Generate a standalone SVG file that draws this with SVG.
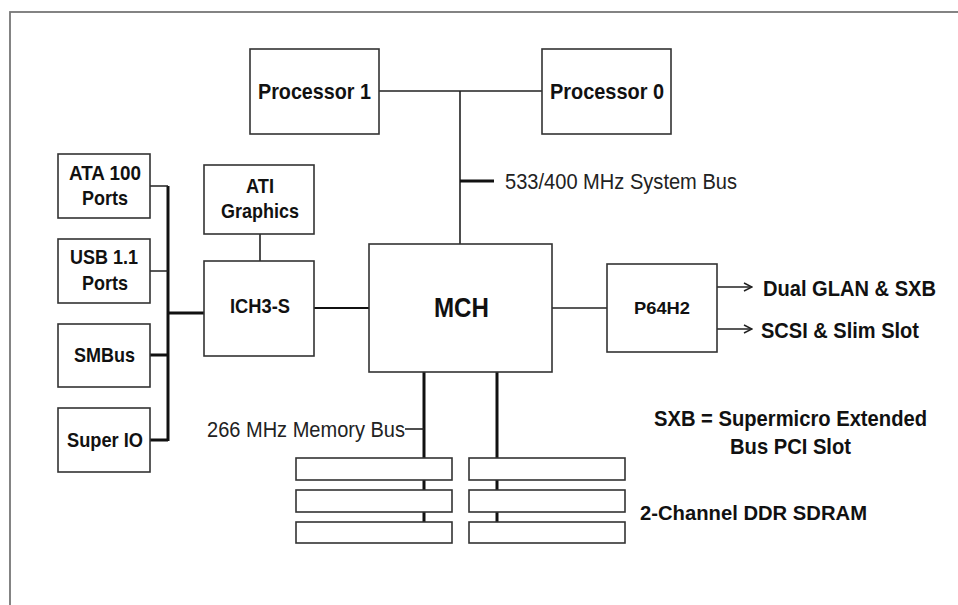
<svg xmlns="http://www.w3.org/2000/svg" width="958" height="605" viewBox="0 0 958 605">
<style>
.box{fill:#fff;stroke:#333;stroke-width:1.6}
.ln{fill:none;stroke:#222;stroke-width:1.6}
.bus{fill:none;stroke:#111;stroke-width:3}
.t{font-family:"Liberation Sans",Arial,sans-serif;font-weight:bold;fill:#111;font-size:21px}
.r{font-family:"Liberation Sans",Arial,sans-serif;font-weight:normal;fill:#222;font-size:22px}
</style>
<defs>
<marker id="arr" markerWidth="10" markerHeight="10" refX="9" refY="5" orient="auto" markerUnits="userSpaceOnUse">
<path d="M1,1 L9,5 L1,9" fill="none" stroke="#222" stroke-width="1.5"/>
</marker>
</defs>
<rect x="0" y="0" width="958" height="605" fill="#fff"/>
<rect x="10" y="12" width="970" height="620" fill="none" stroke="#777" stroke-width="1.8"/>

<g id="connectors">
<path class="ln" d="M379,91 H542 M460,91 V244"/>
<path class="bus" d="M460,181 H494"/>
<path class="ln" d="M260,234 V261"/>
<path class="bus" d="M168,186 V441"/>
<path class="ln" d="M150,186 H168 M150,271 H168"/>
<path class="bus" d="M150,355 H168 M150,440 H168 M168,313 H205"/>
<path class="bus" d="M314,308 H369" style="stroke-width:2.2"/>
<path class="ln" d="M552,308 H607"/>
<path class="ln" d="M717,287 H752" marker-end="url(#arr)"/>
<path class="ln" d="M717,329 H752" marker-end="url(#arr)"/>
<path class="bus" d="M424,372 V522 M497,372 V522"/>
<path class="ln" d="M405,429 H424"/>
</g>

<g id="processor1"><rect class="box" x="250" y="49" width="129" height="85"/><text class="t" x="258" y="99" font-size="22" textLength="113" lengthAdjust="spacingAndGlyphs" style="font-size:22px">Processor 1</text></g>
<g id="processor0"><rect class="box" x="542" y="49" width="129" height="85"/><text class="t" x="550" y="99" textLength="114" lengthAdjust="spacingAndGlyphs" style="font-size:22px">Processor 0</text></g>

<g id="ata"><rect class="box" x="58" y="154" width="92" height="64"/><text class="t" x="69" y="180" textLength="72" lengthAdjust="spacingAndGlyphs">ATA 100</text><text class="t" x="82" y="205" textLength="46" lengthAdjust="spacingAndGlyphs">Ports</text></g>
<g id="usb"><rect class="box" x="58" y="239" width="92" height="64"/><text class="t" x="70" y="264" textLength="68" lengthAdjust="spacingAndGlyphs">USB 1.1</text><text class="t" x="82" y="290" textLength="46" lengthAdjust="spacingAndGlyphs">Ports</text></g>
<g id="smbus"><rect class="box" x="58" y="324" width="92" height="63"/><text class="t" x="74" y="362" textLength="61" lengthAdjust="spacingAndGlyphs">SMBus</text></g>
<g id="superio"><rect class="box" x="58" y="408" width="92" height="64"/><text class="t" x="67" y="447" textLength="76" lengthAdjust="spacingAndGlyphs">Super IO</text></g>

<g id="ati"><rect class="box" x="204" y="165" width="110" height="69"/><text class="t" x="246" y="193" textLength="28" lengthAdjust="spacingAndGlyphs">ATI</text><text class="t" x="221" y="218" textLength="78" lengthAdjust="spacingAndGlyphs">Graphics</text></g>
<g id="ich"><rect class="box" x="204" y="261" width="110" height="95"/><text class="t" x="230" y="313" textLength="60" lengthAdjust="spacingAndGlyphs">ICH3-S</text></g>
<g id="mch"><rect class="box" x="369" y="244" width="183" height="128"/><text class="t" x="434" y="317" textLength="55" lengthAdjust="spacingAndGlyphs" style="font-size:28px">MCH</text></g>
<g id="p64h2"><rect class="box" x="607" y="264" width="110" height="88"/><text class="t" x="634" y="314" textLength="56" lengthAdjust="spacingAndGlyphs" style="font-size:17px">P64H2</text></g>

<g id="labels">
<text class="r" x="505" y="189" textLength="232" lengthAdjust="spacingAndGlyphs">533/400 MHz System Bus</text>
<text class="r" x="207" y="437" textLength="198" lengthAdjust="spacingAndGlyphs">266 MHz Memory Bus</text>
<text class="t" x="763" y="296" textLength="173" lengthAdjust="spacingAndGlyphs" style="font-size:22px">Dual GLAN &amp; SXB</text>
<text class="t" x="761" y="338" textLength="158" lengthAdjust="spacingAndGlyphs" style="font-size:22px">SCSI &amp; Slim Slot</text>
<text class="t" x="654" y="426" textLength="273" lengthAdjust="spacingAndGlyphs" style="font-size:22px">SXB = Supermicro Extended</text>
<text class="t" x="730" y="454" textLength="121" lengthAdjust="spacingAndGlyphs" style="font-size:22px">Bus PCI Slot</text>
<text class="t" x="640" y="520" textLength="227" lengthAdjust="spacingAndGlyphs">2-Channel DDR SDRAM</text>
</g>

<g id="dimms">
<rect class="box" x="296" y="458" width="156" height="22"/>
<rect class="box" x="296" y="490" width="156" height="22"/>
<rect class="box" x="296" y="522" width="156" height="21"/>
<rect class="box" x="469" y="458" width="156" height="22"/>
<rect class="box" x="469" y="490" width="156" height="22"/>
<rect class="box" x="469" y="522" width="156" height="21"/>
</g>
</svg>
